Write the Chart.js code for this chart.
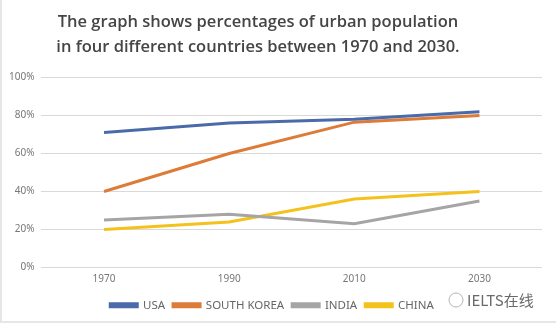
<!DOCTYPE html>
<html>
<head>
<meta charset="utf-8">
<script src="https://cdn.jsdelivr.net/npm/chart.js@4"></script>
<style>
  html, body { margin: 0; padding: 0; background: #fff; }
  #wrap {
    position: relative; width: 556px; height: 323px; box-sizing: border-box;
    border-left: 2px solid #e6e6e6; border-bottom: 2px solid #e6e6e6;
  }
</style>
</head>
<body>
<div id="wrap"><canvas id="c"></canvas></div>
<script>
// ---- data ----
const years = ['1970', '1990', '2010', '2030'];
const usa = [71, 76, 78, 82];
const southKorea = [40, 60, 76.5, 80];
const india = [25, 28, 23, 35];
const china = [20, 24, 36, 40];
const titleLines = [
  'The graph shows percentages of urban population',
  'in four different countries between 1970 and 2030.',
];

const colors = {
  usa: '#4a6aaa',
  korea: '#dd7b38',
  india: '#a5a5a5',
  china: '#f4c21c',
};

function line(label, data, color) {
  return {
    label, data,
    borderColor: color, backgroundColor: color,
    borderWidth: 3, pointRadius: 0, tension: 0,
  };
}

// title sits a bit left of centre in the original
const shiftTitle = {
  id: 'shiftTitle',
  afterLayout(chart) {
    if (chart.titleBlock) chart.titleBlock.right -= 28;
  },
};

// small watermark at bottom right
const watermark = {
  id: 'watermark',
  afterDraw(chart) {
    const { ctx } = chart;
    ctx.save();
    ctx.fillStyle = '#6a6a6a';
    ctx.font = '15px "Noto Sans CJK SC", "Noto Sans", sans-serif';
    ctx.textBaseline = 'middle';
    ctx.fillText('IELTS在线', 465, 300);
    ctx.strokeStyle = '#b5b5b5';
    ctx.lineWidth = 1;
    ctx.beginPath(); ctx.arc(454, 300, 7, 0, Math.PI * 2); ctx.stroke();
    ctx.restore();
  },
};

new Chart(document.getElementById('c'), {
  type: 'line',
  data: {
    labels: years,
    datasets: [
      line('USA', usa, colors.usa),
      line('SOUTH KOREA', southKorea, colors.korea),
      line('INDIA', india, colors.india),
      line('CHINA', china, colors.china),
    ],
  },
  options: {
    responsive: true,
    maintainAspectRatio: false,
    animation: false,
    layout: { padding: { left: 0, right: 14, top: 10, bottom: 0 } },
    plugins: {
      title: {
        display: true,
        text: titleLines,
        color: '#454545',
        font: { family: '"Open Sans", sans-serif', size: 16.5, weight: '600', lineHeight: 1.5 },
        padding: { top: 0, bottom: 18 },
      },
      legend: {
        position: 'bottom',
        labels: {
          color: '#666',
          boxWidth: 27, boxHeight: 3,
          font: { family: '"Noto Sans", sans-serif', size: 11.5 },
          padding: 8,
        },
      },
      tooltip: { enabled: false },
    },
    scales: {
      x: {
        offset: true,
        grid: { display: false, drawTicks: false },
        border: { display: false },
        ticks: {
          color: '#777', padding: 7,
          font: { family: '"Noto Sans", sans-serif', size: 10, lineHeight: 1 },
        },
      },
      y: {
        min: 0, max: 100,
        grid: { color: '#d9d9d9', drawTicks: false },
        border: { display: false },
        ticks: {
          stepSize: 20, color: '#777', padding: 7,
          font: { family: '"Noto Sans", sans-serif', size: 10 },
          callback: (v) => v + '%',
        },
      },
    },
  },
  plugins: [shiftTitle, watermark],
});
</script>
</body>
</html>
